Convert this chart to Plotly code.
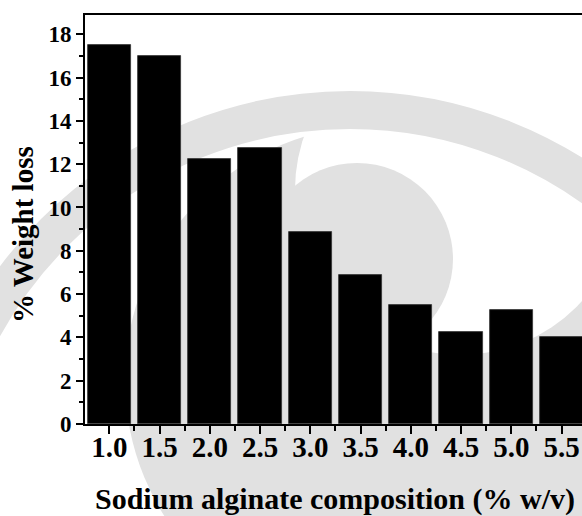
import plotly.graph_objects as go

compositions = [1.0, 1.5, 2.0, 2.5, 3.0, 3.5, 4.0, 4.5, 5.0, 5.5]
weight_loss = [17.5, 17.0, 12.25, 12.75, 8.85, 6.9, 5.5, 4.25, 5.25, 4.0]
x_tick_vals = [1.0, 1.5, 2.0, 2.5, 3.0, 3.5, 4.0, 4.5, 5.0, 5.5]
x_tick_text = ["1.0", "1.5", "2.0", "2.5", "3.0", "3.5", "4.0", "4.5", "5.0", "5.5"]
y_tick_vals = [0, 2, 4, 6, 8, 10, 12, 14, 16, 18]
x_title = "Sodium alginate composition (% w/v)"
y_title = "% Weight loss"

FONT = "Liberation Serif"
W, H = 582, 516
ML, MR, MT, MB = 85, 0, 15, 92
PW, PH = W - ML - MR, H - MT - MB

def px2paper_x(px):
    return (px - ML) / PW

def px2paper_y(py):
    return (H - MB - py) / PH

def circle(cx, cy, r, fill=None, line_color=None, line_width=0):
    return dict(type="circle", xref="paper", yref="paper", layer="below",
                x0=px2paper_x(cx - r), x1=px2paper_x(cx + r),
                y0=px2paper_y(cy + r), y1=px2paper_y(cy - r),
                fillcolor=fill or "rgba(0,0,0,0)",
                line=dict(color=line_color or "rgba(0,0,0,0)", width=line_width))

WM = "#e1e1e1"
# faint background watermark (logo) approximation
shapes = [
    circle(380, 380, 255, fill=WM),
    circle(460, 190, 165, fill="white"),
    circle(357, 259, 96, fill=WM),
    circle(350, 528, 418, line_color=WM, line_width=38),
]

annotations = [
    dict(text="<b>" + x_title + "</b>", xref="paper", yref="paper",
         x=px2paper_x(334.5), y=px2paper_y(499), xanchor="center", yanchor="middle",
         showarrow=False, font=dict(family=FONT, size=30, color="black")),
    dict(text="<b>" + y_title + "</b>", xref="paper", yref="paper",
         x=px2paper_x(23), y=px2paper_y(235), xanchor="center", yanchor="middle",
         textangle=-90, showarrow=False, font=dict(family=FONT, size=29, color="black")),
]

fig = go.Figure()
fig.add_trace(go.Bar(
    x=compositions, y=weight_loss, width=0.43,
    marker=dict(color="black", line=dict(color="#333333", width=0.8)),
))

fig.update_layout(
    width=W, height=H,
    margin=dict(l=ML, r=MR, t=MT, b=MB),
    plot_bgcolor="rgba(0,0,0,0)", paper_bgcolor="white",
    showlegend=False, bargap=0,
    font=dict(family=FONT, color="black"),
    shapes=shapes, annotations=annotations,
)
fig.update_xaxes(
    range=[0.758, 5.703], automargin=False,
    tickmode="array", tickvals=x_tick_vals, ticktext=x_tick_text,
    tickfont=dict(family=FONT, size=29, color="black", weight="bold"),
    ticks="outside", ticklen=8, tickwidth=1.5, tickcolor="black",
    ticklabelstandoff=-12,
    minor=dict(ticks="outside", tick0=1.25, dtick=0.5, ticklen=5, tickwidth=1.5, tickcolor="black"),
    showline=True, linecolor="black", linewidth=2, mirror=True,
    showgrid=False, zeroline=False,
)
fig.update_yaxes(
    range=[0, 18.89], automargin=False,
    tickmode="array", tickvals=y_tick_vals,
    tickfont=dict(family=FONT, size=23, color="black", weight="bold"),
    ticks="outside", ticklen=7, tickwidth=1.5, tickcolor="black",
    minor=dict(ticks="outside", tick0=1, dtick=2, ticklen=4, tickwidth=1.5, tickcolor="black"),
    showline=True, linecolor="black", linewidth=2, mirror=True,
    showgrid=False, zeroline=False,
)

fig.write_html("out.html")
